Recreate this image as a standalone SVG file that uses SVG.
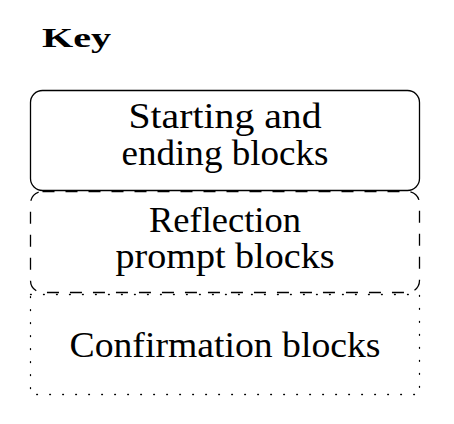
<svg xmlns="http://www.w3.org/2000/svg" width="454" height="424" viewBox="0 0 454 424">
<style>
.t{font-family:"Liberation Serif","DejaVu Serif",serif;font-size:35px;fill:#000;text-anchor:middle}
.box{fill:none;stroke:#000;stroke-width:1.3}
</style>
<rect width="454" height="424" fill="#fff"/>
<text x="42" y="47" font-family="Liberation Serif, DejaVu Serif, serif" font-size="28" font-weight="bold" textLength="69" lengthAdjust="spacingAndGlyphs">Key</text>
<g id="confirm">
<rect class="box" x="30.5" y="294.5" width="389" height="100" stroke-dasharray="0.8 12.2" stroke-linecap="round" stroke-width="1.6"/>
<text class="t" x="225" y="357" textLength="311" lengthAdjust="spacingAndGlyphs">Confirmation blocks</text>
</g>
<g id="reflection">
<rect class="box" x="30.5" y="191.5" width="389" height="101" rx="12" stroke-dasharray="12 11"/>
<text class="t" x="225" y="232" textLength="152" lengthAdjust="spacingAndGlyphs">Reflection</text>
<text class="t" x="225" y="268" textLength="219" lengthAdjust="spacingAndGlyphs">prompt blocks</text>
</g>
<g id="start">
<rect class="box" x="30.5" y="90.5" width="389" height="100" rx="12"/>
<text class="t" x="225" y="128" textLength="193" lengthAdjust="spacingAndGlyphs">Starting and</text>
<text class="t" x="225" y="165" textLength="207" lengthAdjust="spacingAndGlyphs">ending blocks</text>
</g>
<g id="connectors"/>
</svg>
